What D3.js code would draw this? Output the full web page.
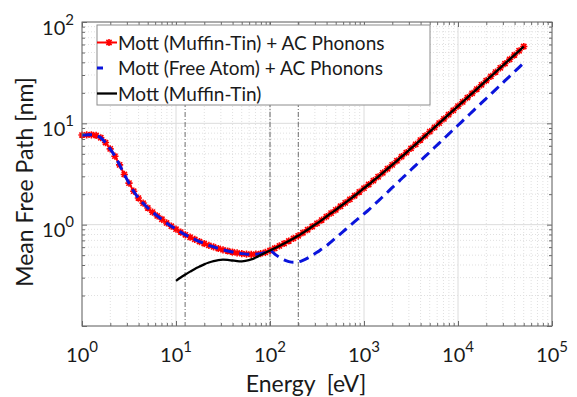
<!DOCTYPE html>
<html>
<head>
<meta charset="utf-8">
<script src="https://cdn.jsdelivr.net/npm/d3@7"></script>
<style>
    body { margin: 0; background: #fff; }
    svg { display: block; }
    text { font-family: Lato, "Open Sans", sans-serif; fill: #1a1a1a; }
</style>
</head>
<body>
<svg id="chart" width="577" height="397"></svg>
<script>
// Energie-Stuetzstellen [eV]
const energy = [
    1, 1.122, 1.259, 1.413, 1.585, 1.778, 1.995, 2.239, 2.512, 2.818, 3.162, 3.548, 3.981, 4.467, 5.012, 5.623, 6.310, 7.079, 7.943, 8.913,
    10, 11.22, 12.59, 14.13, 15.85, 17.78, 19.95, 22.39, 25.12, 28.18, 31.62, 35.48, 39.81, 44.67, 50.12, 56.23, 63.10, 70.79, 79.43, 89.13,
    100, 112.2, 125.9, 141.3, 158.5, 177.8, 199.5, 223.9, 251.2, 281.8, 316.2, 354.8, 398.1, 446.7, 501.2, 562.3, 631.0, 707.9, 794.3, 891.3,
    1000, 1122, 1259, 1413, 1585, 1778, 1995, 2239, 2512, 2818, 3162, 3548, 3981, 4467, 5012, 5623, 6310, 7079, 7943, 8913,
    10000, 11220, 12590, 14130, 15850, 17780, 19950, 22390, 25120, 28180, 31620, 35480, 39810, 44670, 50120
];

// Mott (Muffin-Tin) + AC Phonons [nm]
const mfpMuffinTinAC = [
    7.66, 7.69, 7.71, 7.59, 7.21, 6.46, 5.60, 4.74, 3.89, 3.13, 2.57, 2.14, 1.83, 1.63, 1.46, 1.33, 1.22, 1.13, 1.04, 0.966,
    0.902, 0.845, 0.794, 0.752, 0.715, 0.681, 0.652, 0.625, 0.603, 0.582, 0.565, 0.550, 0.537, 0.526, 0.518, 0.512, 0.509, 0.511, 0.518, 0.533,
    0.556, 0.585, 0.617, 0.652, 0.690, 0.731, 0.776, 0.832, 0.891, 0.959, 1.03, 1.11, 1.20, 1.30, 1.40, 1.52, 1.64, 1.78, 1.93, 2.10,
    2.29, 2.49, 2.72, 2.97, 3.25, 3.56, 3.89, 4.27, 4.69, 5.14, 5.65, 6.21, 6.84, 7.52, 8.28, 9.12, 10.05, 11.07, 12.19, 13.43,
    14.79, 16.29, 17.95, 19.77, 21.78, 23.99, 26.42, 29.11, 32.06, 35.32, 38.9, 42.85, 47.2, 52.0, 57.3
];

// Mott (Free Atom) + AC Phonons [nm] - unter 100 eV deckungsgleich mit Muffin-Tin
const mfpFreeAtomAC = mfpMuffinTinAC.slice(0, 40).concat([
    0.556, 0.513, 0.476, 0.449, 0.432, 0.425, 0.429, 0.445, 0.468, 0.498, 0.533, 0.574, 0.617, 0.676, 0.741, 0.813, 0.891, 0.977, 1.07, 1.17,
    1.28, 1.40, 1.55, 1.71, 1.89, 2.09, 2.32, 2.56, 2.84, 3.14, 3.48, 3.85, 4.26, 4.71, 5.21, 5.77, 6.38, 7.06, 7.82, 8.65,
    9.57, 10.59, 11.72, 12.97, 14.35, 15.89, 17.58, 19.45, 21.53, 23.82, 26.36, 29.17, 32.28, 35.73, 39.54
]);

// Mott (Muffin-Tin) ohne Phononen, ab 10 eV; ab 100 eV gleich wie mit Phononen
const energyMuffinTin = energy.slice(20);
const mfpMuffinTin = [
    0.279, 0.301, 0.322, 0.344, 0.366, 0.386, 0.406, 0.423, 0.437, 0.447, 0.451, 0.449, 0.443, 0.437, 0.435, 0.441, 0.454, 0.475, 0.501, 0.528
].concat(mfpMuffinTinAC.slice(40));

// senkrechte Markierungen [eV]
const markerEnergies = [12.5, 100, 200];

// Achsen-Dekaden (Exponenten)
const xTickExps = [0, 1, 2, 3, 4, 5];
const yTickExps = [-1, 0, 1, 2];
const yLabelExps = [0, 1, 2];

const legendLabels = [
    'Mott (Muffin-Tin) + AC Phonons',
    'Mott (Free Atom) + AC Phonons',
    'Mott (Muffin-Tin)'
];

const svg = d3.select('#chart');
const margin = { top: 22, right: 25, bottom: 71, left: 82 };
const width = 577 - margin.left - margin.right;
const height = 397 - margin.top - margin.bottom;
const axisColor = '#6b6b6b';

const g = svg.append('g')
    .attr('transform', `translate(${margin.left},${margin.top})`);

// Skalen
const xScale = d3.scaleLog().domain([1, 1e5]).range([0, width]);
const yScale = d3.scaleLog().domain([0.1, 100]).range([height, 0]);

const xMajor = xTickExps.map(e => Math.pow(10, e));
const yMajor = yTickExps.map(e => Math.pow(10, e));
const minorSteps = [2, 3, 4, 5, 6, 7, 8, 9];
const xMinor = xMajor.slice(0, -1).flatMap(d => minorSteps.map(k => d * k));
const yMinor = yMajor.slice(0, -1).flatMap(d => minorSteps.map(k => d * k));

// Gitter (Nebenlinien gepunktet, Hauptlinien hell)
g.append('g').selectAll('line')
    .data(xMinor).enter().append('line')
    .attr('x1', d => xScale(d)).attr('x2', d => xScale(d))
    .attr('y1', 0).attr('y2', height)
    .style('stroke', '#e0e0e0').style('stroke-dasharray', '1,2');
g.append('g').selectAll('line')
    .data(yMinor).enter().append('line')
    .attr('y1', d => yScale(d)).attr('y2', d => yScale(d))
    .attr('x1', 0).attr('x2', width)
    .style('stroke', '#e0e0e0').style('stroke-dasharray', '1,2');
g.append('g').selectAll('line')
    .data(xMajor).enter().append('line')
    .attr('x1', d => xScale(d)).attr('x2', d => xScale(d))
    .attr('y1', 0).attr('y2', height)
    .style('stroke', '#dcdcdc');
g.append('g').selectAll('line')
    .data(yMajor).enter().append('line')
    .attr('y1', d => yScale(d)).attr('y2', d => yScale(d))
    .attr('x1', 0).attr('x2', width)
    .style('stroke', '#dcdcdc');

// senkrechte Strich-Punkt-Linien
g.append('g').selectAll('line')
    .data(markerEnergies).enter().append('line')
    .attr('x1', d => xScale(d)).attr('x2', d => xScale(d))
    .attr('y1', 0).attr('y2', height)
    .style('stroke', '#4a4a4a')
    .style('stroke-width', 0.8)
    .style('stroke-dasharray', '5,2,1,2');

// Kurven
const line = d3.line()
    .x(d => xScale(d[0]))
    .y(d => yScale(d[1]))
    .curve(d3.curveMonotoneX);

const redData = energy.map((e, i) => [e, mfpMuffinTinAC[i]]);
const blueData = energy.map((e, i) => [e, mfpFreeAtomAC[i]]);
const blackData = energyMuffinTin.map((e, i) => [e, mfpMuffinTin[i]]);

const asterisk = 'M-3.6,0H3.6M0,-3.6V3.6M-2.6,-2.6L2.6,2.6M-2.6,2.6L2.6,-2.6';

g.append('path')
    .datum(redData)
    .attr('d', line)
    .style('fill', 'none')
    .style('stroke', '#ff0000')
    .style('stroke-width', 2);

g.selectAll('.marker')
    .data(redData).enter().append('path')
    .attr('class', 'marker')
    .attr('transform', d => `translate(${xScale(d[0])},${yScale(d[1])})`)
    .attr('d', asterisk)
    .style('fill', 'none')
    .style('stroke', '#ff0000')
    .style('stroke-width', 1.6);

g.append('path')
    .datum(blueData)
    .attr('d', line)
    .style('fill', 'none')
    .style('stroke', '#0a14dc')
    .style('stroke-width', 3)
    .style('stroke-dasharray', '10,6');

g.append('path')
    .datum(blackData)
    .attr('d', line)
    .style('fill', 'none')
    .style('stroke', '#000')
    .style('stroke-width', 2.3);

// Achsen mit Innen-Ticks
function tickAxis(axisFn, scale, values, size, transform) {
    const ax = g.append('g')
        .attr('transform', transform || null)
        .call(axisFn(scale).tickValues(values).tickSize(size).tickFormat(''));
    ax.select('.domain').remove();
    ax.selectAll('line').style('stroke', axisColor);
    return ax;
}
tickAxis(d3.axisBottom, xScale, xMajor, -5, `translate(0,${height})`);
tickAxis(d3.axisBottom, xScale, xMinor, -3, `translate(0,${height})`);
tickAxis(d3.axisTop, xScale, xMajor, -5);
tickAxis(d3.axisTop, xScale, xMinor, -3);
tickAxis(d3.axisLeft, yScale, yMajor, -5);
tickAxis(d3.axisLeft, yScale, yMinor, -3);
tickAxis(d3.axisRight, yScale, yMajor, -5, `translate(${width},0)`);
tickAxis(d3.axisRight, yScale, yMinor, -3, `translate(${width},0)`);

g.append('rect')
    .attr('width', width)
    .attr('height', height)
    .style('fill', 'none')
    .style('stroke', axisColor)
    .style('stroke-width', 1);

// Tick-Beschriftung 10^n
function powerLabel(sel, exp) {
    sel.append('tspan').text('10');
    sel.append('tspan')
        .attr('dy', -10)
        .style('font-size', '15px')
        .text(exp);
}

xTickExps.forEach(e => {
    const t = g.append('text')
        .attr('x', xScale(Math.pow(10, e)))
        .attr('y', height + 36)
        .attr('text-anchor', 'middle')
        .style('font-size', '20px');
    powerLabel(t, e);
});

yLabelExps.forEach(e => {
    const t = g.append('text')
        .attr('x', -8)
        .attr('y', yScale(Math.pow(10, e)) + 12.5)
        .attr('text-anchor', 'end')
        .style('font-size', '20px');
    powerLabel(t, e);
});

// Achsentitel
svg.append('text')
    .attr('x', 306)
    .attr('y', 392)
    .attr('text-anchor', 'middle')
    .style('font-size', '23px')
    .text('Energy\u00a0 [eV]');

svg.append('text')
    .attr('transform', 'translate(33,182) rotate(-90)')
    .attr('text-anchor', 'middle')
    .style('font-size', '23px')
    .text('Mean Free Path [nm]');

// Legende
const legend = svg.append('g').attr('transform', 'translate(97,25)');
legend.append('rect')
    .attr('width', 333)
    .attr('height', 80)
    .style('fill', '#fff')
    .style('stroke', '#8c8c8c');

const rowY = [17.5, 43, 68.5];

legend.append('line')
    .attr('x1', 0).attr('x2', 20).attr('y1', rowY[0]).attr('y2', rowY[0])
    .style('stroke', '#ff0000').style('stroke-width', 2);
legend.append('path')
    .attr('transform', `translate(12,${rowY[0]})`)
    .attr('d', asterisk)
    .style('fill', 'none').style('stroke', '#ff0000').style('stroke-width', 1.6);

legend.append('line')
    .attr('x1', 0).attr('x2', 6).attr('y1', rowY[1]).attr('y2', rowY[1])
    .style('stroke', '#0a14dc').style('stroke-width', 3);

legend.append('line')
    .attr('x1', 0).attr('x2', 20).attr('y1', rowY[2]).attr('y2', rowY[2])
    .style('stroke', '#000').style('stroke-width', 2.3);

legend.selectAll('.legend-label')
    .data(legendLabels).enter().append('text')
    .attr('class', 'legend-label')
    .attr('x', 21)
    .attr('y', (d, i) => rowY[i] + 7)
    .style('font-size', '19px')
    .text(d => d);
</script>
</body>
</html>
